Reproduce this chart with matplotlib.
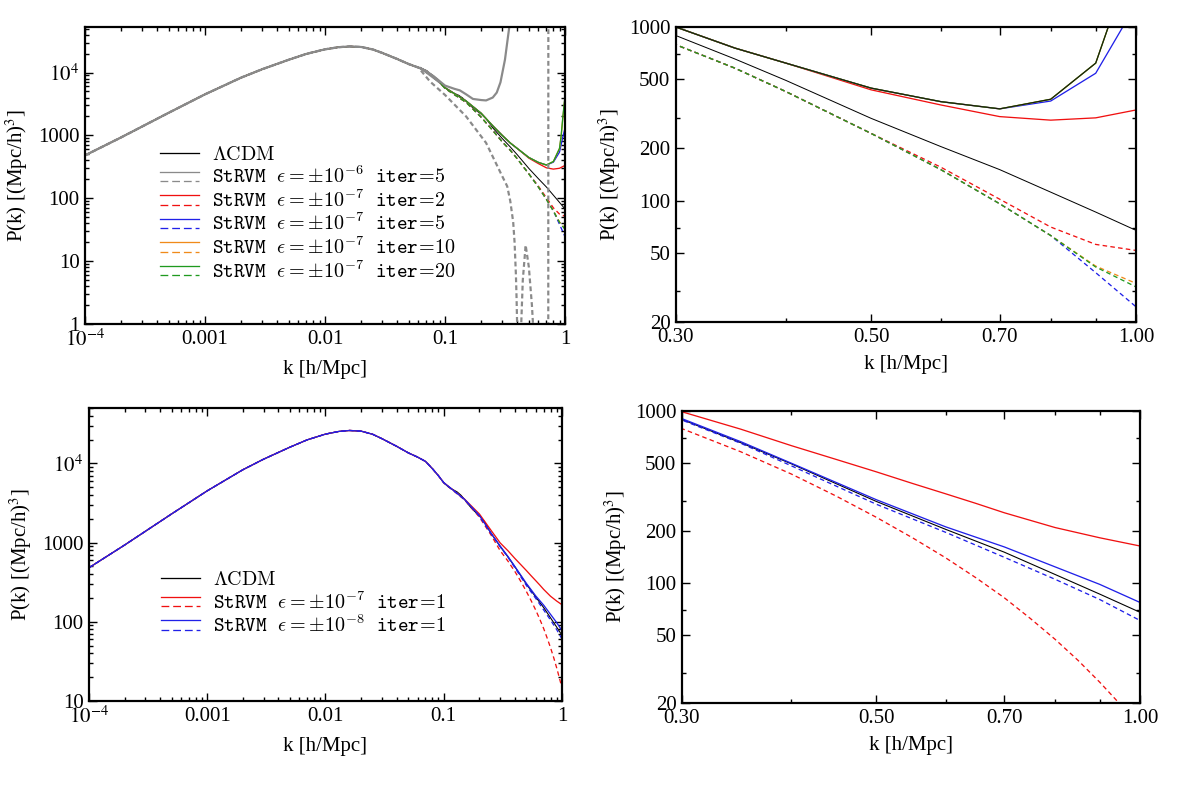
import matplotlib
matplotlib.use("Agg")
import matplotlib.pyplot as plt
import numpy as np
from matplotlib.legend_handler import HandlerBase
from matplotlib.lines import Line2D
from matplotlib.ticker import FixedLocator, NullFormatter, LogLocator

plt.rcParams["font.family"] = ["Liberation Serif", "DejaVu Serif"]
plt.rcParams["mathtext.fontset"] = "stix"

# ---- data (k in h/Mpc, P in (Mpc/h)^3) ----
LCDM_K = [1e-4, 2e-4, 5e-4, 1e-3, 2e-3, 3e-3, 5e-3, 7e-3, 0.01, 0.013, 0.016,
          0.02, 0.025, 0.03, 0.04, 0.05, 0.06, 0.07, 0.08, 0.09, 0.1, 0.11,
          0.12, 0.13, 0.14, 0.15, 0.16, 0.17, 0.18, 0.19, 0.2, 0.22, 0.25,
          0.3, 0.35, 0.4, 0.5, 0.6, 0.7, 0.8, 0.9, 1.0]
LCDM_P = [481, 930, 2300, 4500, 8300, 11300, 16000, 19800, 23400, 25300, 26000,
          25500, 23300, 20500, 16400, 13600, 12000, 10600, 8600, 7000, 5700, 5000,
          4650, 4350, 3950, 3500, 3080, 2760, 2520, 2350, 2180, 1850, 1320,
          893, 655, 493, 298, 205, 151, 112, 86, 67.5]

# all StRVM curves follow LCDM for k < 0.1 (first N_LOW points)
N_LOW = 20

# eps = +-1e-6, iter=5
E6_SOLID_K = [0.062, 0.08, 0.1, 0.12, 0.133, 0.15, 0.171, 0.2, 0.22, 0.25, 0.27, 0.29, 0.316, 0.33, 0.35]
E6_SOLID_P = [11900, 8800, 6200, 5500, 5200, 4500, 3800, 3650, 3600, 4000, 4800, 7000, 16000, 30000, 70000]
E6_DASH_K = [0.075, 0.1, 0.15, 0.22, 0.3, 0.33, 0.35, 0.37, 0.38, 0.39, 0.395, 0.40,
             np.nan, 0.43, 0.445, 0.47, 0.50, 0.53, 0.545,
             np.nan, 0.7255, 0.7265]
E6_DASH_P = [7200, 4400, 2000, 760, 224, 155, 90, 42, 20, 6, 2.5, 0.8,
             np.nan, 0.8, 5, 18, 8, 2, 0.8,
             np.nan, 0.5, 1e5]

# eps = +-1e-7: solid branches
E7_SOLID_K = [0.1, 0.15, 0.2, 0.25, 0.3, 0.35, 0.4, 0.5, 0.6, 0.7]
E7_SOLID_P = [5750, 3520, 2250, 1420, 1000, 757, 620, 445, 372, 338]
E7I2_MID_P = [435, 356, 305]          # red at 0.5, 0.6, 0.7
E7I2_TAIL_K = [0.8, 0.9, 1.0]
E7I2_TAIL_P = [291, 300, 333]
E7I5_TAIL_K = [0.8, 0.9, 0.966, 1.0]
E7I5_TAIL_P = [375, 542, 1000, 1300]
E7I10_TAIL_K = [0.8, 0.9, 0.93, 0.96, 1.0]
E7I10_TAIL_P = [384, 620, 1000, 1900, 4000]
E7I20_TAIL_P = [384, 620, 1000, 2000, 4200]

# eps = +-1e-7: dashed branches
E7_DASH_K = [0.1, 0.15, 0.2, 0.25, 0.3, 0.35, 0.4, 0.5, 0.6, 0.7, 0.8]
E7_DASH_P = [5600, 3350, 1950, 1200, 791, 580, 425, 244, 151, 96, 63]
E7I2_DASH_TAIL_P = [156, 102, 70.5, 56, 51.7]   # red at 0.6 .. 1.0
E7I5_DASH_TAIL_P = [38.5, 24.5]                 # blue at 0.9, 1.0
E7I10_DASH_TAIL_P = [42, 33.4]                  # orange at 0.9, 1.0
E7I20_DASH_TAIL_P = [41.5, 31.9]                # green at 0.9, 1.0

# bottom panels, iter=1
R1_SOLID_K = [0.1, 0.15, 0.2, 0.25, 0.3, 0.35, 0.4, 0.45, 0.5, 0.55, 0.6, 0.65, 0.7, 0.8, 0.9, 1.0]
R1_SOLID_P = [5720, 3530, 2300, 1440, 990, 785, 629, 523, 443, 379, 330, 290, 256, 210, 183, 164]
B1_K = [0.1, 0.15, 0.2, 0.25, 0.3, 0.35, 0.4, 0.5, 0.6, 0.7, 0.8, 0.9, 1.0]
B1_SOLID_P = [5710, 3510, 2200, 1330, 903, 664, 497, 305, 212, 162, 124, 98, 77]
B1_DASH_P = [5690, 3490, 2160, 1310, 886, 650, 480, 287, 197, 141, 105, 80, 60.5]
R1_DASH_K = [0.1, 0.15, 0.2, 0.25, 0.3, 0.35, 0.4, 0.45, 0.5, 0.55, 0.6, 0.65,
             0.7, 0.75, 0.8, 0.85, 0.9, 0.95, 1.0]
R1_DASH_P = [5680, 3460, 2100, 1260, 790, 580, 430, 320, 241, 183, 140, 107,
             82, 62, 47, 35.4, 26.4, 19.6, 14.5]

GRAY = "#8a8a8a"
RED = "#f01010"
BLUE = "#2020e8"
ORANGE = "#f08a1a"
GREEN = "#1f9a1f"

PX = 0.72  # one pixel in points at dpi=100


def low(kk, pp):
    return LCDM_K[:N_LOW] + list(kk), LCDM_P[:N_LOW] + list(pp)


def series():
    s = {}
    s["lcdm"] = (LCDM_K, LCDM_P)
    s["e6_solid"] = low(E6_SOLID_K, E6_SOLID_P)
    s["e6_dash"] = (LCDM_K[:17] + E6_DASH_K, LCDM_P[:17] + E6_DASH_P)
    base_k, base_p = low(E7_SOLID_K, E7_SOLID_P)
    s["i2_solid"] = (base_k[:-3] + [0.5, 0.6, 0.7] + E7I2_TAIL_K,
                     base_p[:-3] + E7I2_MID_P + E7I2_TAIL_P)
    s["i5_solid"] = (base_k + E7I5_TAIL_K, base_p + E7I5_TAIL_P)
    s["i10_solid"] = (base_k + E7I10_TAIL_K, base_p + E7I10_TAIL_P)
    s["i20_solid"] = (base_k + E7I10_TAIL_K, base_p + E7I20_TAIL_P)
    dk, dp = low(E7_DASH_K, E7_DASH_P)
    s["i2_dash"] = (dk[:-3] + [0.6, 0.7, 0.8, 0.9, 1.0], dp[:-3] + E7I2_DASH_TAIL_P)
    s["i5_dash"] = (dk + [0.9, 1.0], dp + E7I5_DASH_TAIL_P)
    s["i10_dash"] = (dk + [0.9, 1.0], dp + E7I10_DASH_TAIL_P)
    s["i20_dash"] = (dk + [0.9, 1.0], dp + E7I20_DASH_TAIL_P)
    s["r1_solid"] = low(R1_SOLID_K, R1_SOLID_P)
    s["r1_dash"] = low(R1_DASH_K, R1_DASH_P)
    s["b1_solid"] = low(B1_K, B1_SOLID_P)
    s["b1_dash"] = low(B1_K, B1_DASH_P)
    return s


S = series()
DASH = (0, (3.5, 2.5))


class PairHandler(HandlerBase):
    """Legend key drawn as a solid line above a dashed one."""

    def create_artists(self, legend, orig_handle, xdescent, ydescent, width,
                       height, fontsize, trans):
        color = orig_handle[0].get_color()
        ymid = height / 2 - ydescent
        gap = 0.24 * fontsize
        a = Line2D([-xdescent, width - xdescent], [ymid + gap] * 2, color=color, lw=1.3 * PX)
        b = Line2D([-xdescent, width - xdescent], [ymid - gap] * 2, color=color, lw=1.3 * PX,
                   linestyle=(0, (6, 3)))
        for ln in (a, b):
            ln.set_transform(trans)
        return [a, b]


def style_axes(ax):
    ax.set_xscale("log")
    ax.set_yscale("log")
    for sp in ax.spines.values():
        sp.set_linewidth(2.2 * PX)
    ax.tick_params(which="both", direction="in", top=True, right=True, labelsize=15, pad=4,
                   width=1.4 * PX)
    ax.tick_params(which="major", length=6)
    ax.tick_params(which="minor", length=3)


def left_ticks(ax, ymin):
    ax.set_xlim(1e-4, 1)
    ax.set_xticks([1e-4, 1e-3, 1e-2, 0.1, 1], [r"$10^{-4}$", "0.001", "0.01", "0.1", "1"])
    ax.xaxis.set_minor_locator(LogLocator(base=10, subs=np.arange(2, 10)))
    ax.xaxis.set_minor_formatter(NullFormatter())
    yt = [1, 10, 100, 1000, 1e4]
    yl = ["1", "10", "100", "1000", r"$10^4$"]
    keep = [i for i, v in enumerate(yt) if v >= ymin]
    ax.set_yticks([yt[i] for i in keep], [yl[i] for i in keep])
    ax.yaxis.set_minor_locator(LogLocator(base=10, subs=np.arange(2, 10)))
    ax.yaxis.set_minor_formatter(NullFormatter())


def right_ticks(ax):
    ax.set_xlim(0.3, 1.0)
    ax.set_ylim(20, 1000)
    ax.set_xticks([0.3, 0.5, 0.7, 1.0], ["0.30", "0.50", "0.70", "1.00"])
    ax.xaxis.set_minor_locator(FixedLocator([0.4, 0.6, 0.8, 0.9]))
    ax.xaxis.set_minor_formatter(NullFormatter())
    ax.set_yticks([20, 50, 100, 200, 500, 1000], ["20", "50", "100", "200", "500", "1000"])
    ax.yaxis.set_minor_locator(FixedLocator([30, 70, 300, 700]))
    ax.yaxis.set_minor_formatter(NullFormatter())


def labels(ax, ylab_pad):
    ax.set_xlabel("k [h/Mpc]", fontsize=15, labelpad=6)
    ax.set_ylabel(r"P(k) [(Mpc/h)$^3$]", fontsize=15, labelpad=ylab_pad)


def draw_top(ax, with_gray=True):
    ax.plot(*S["lcdm"], color="black", lw=1.0 * PX)
    for key, col in [("i2", RED), ("i5", BLUE), ("i10", ORANGE), ("i20", GREEN)]:
        ax.plot(*S[key + "_solid"], color=col, lw=1.3 * PX)
    for key, col in [("i2", RED), ("i5", BLUE), ("i10", ORANGE), ("i20", GREEN)]:
        ax.plot(*S[key + "_dash"], color=col, lw=1.3 * PX, linestyle=DASH)
    if with_gray:
        ax.plot(*S["e6_solid"], color=GRAY, lw=2.2 * PX)
        ax.plot(*S["e6_dash"], color=GRAY, lw=2.2 * PX, linestyle=(0, (2.2, 1.4)))


def draw_bottom(ax):
    ax.plot(*S["lcdm"], color="black", lw=1.1 * PX)
    ax.plot(*S["r1_solid"], color=RED, lw=1.3 * PX)
    ax.plot(*S["r1_dash"], color=RED, lw=1.3 * PX, linestyle=DASH)
    ax.plot(*S["b1_solid"], color=BLUE, lw=1.3 * PX)
    ax.plot(*S["b1_dash"], color=BLUE, lw=1.3 * PX, linestyle=DASH)


fig = plt.figure(figsize=(11.96, 7.87), dpi=100)
ax_tl = fig.add_axes([0.0711, 0.5883, 0.4013, 0.3774])
ax_tr = fig.add_axes([0.5652, 0.5908, 0.3846, 0.3748])
ax_bl = fig.add_axes([0.0744, 0.1093, 0.3955, 0.3723])
ax_br = fig.add_axes([0.5702, 0.1067, 0.3829, 0.3710])

for ax in (ax_tl, ax_tr, ax_bl, ax_br):
    style_axes(ax)

leg_font = {"family": "DejaVu Serif", "size": 14.5, "math_fontfamily": "cm"}
eps_lbl = r"$\mathtt{StRVM}\ \ \epsilon = \pm 10^{%s}\ \ \mathtt{iter}\!=\!\mathtt{%s}$"
leg_kw = dict(loc="upper left", frameon=False, prop=leg_font,
              handler_map={tuple: PairHandler()}, handlelength=1.95,
              handletextpad=0.65, labelspacing=0.1, borderpad=0, borderaxespad=0)


def pair(c):
    return (Line2D([], [], color=c), Line2D([], [], color=c, linestyle="--"))


# top left
draw_top(ax_tl)
ax_tl.set_ylim(1, 5.3e4)
left_ticks(ax_tl, 1)
labels(ax_tl, 6)
handles = [Line2D([], [], color="black", lw=1.3 * PX)] + [pair(c) for c in (GRAY, RED, BLUE, ORANGE, GREEN)]
texts = [r"$\Lambda\mathrm{CDM}$",
         eps_lbl % ("-6", "5"), eps_lbl % ("-7", "2"), eps_lbl % ("-7", "5"),
         eps_lbl % ("-7", "10"), eps_lbl % ("-7", "20")]
ax_tl.legend(handles, texts, bbox_to_anchor=(0.156, 0.603), **leg_kw)

# top right
draw_top(ax_tr, with_gray=False)
ax_tr.plot(*S["i20_solid"], color="#201010", lw=1.0 * PX)
right_ticks(ax_tr)
labels(ax_tr, 4)

# bottom left
draw_bottom(ax_bl)
ax_bl.set_ylim(10, 5e4)
left_ticks(ax_bl, 10)
labels(ax_bl, 6)
handles_b = [Line2D([], [], color="black", lw=1.3 * PX), pair(RED), pair(BLUE)]
texts_b = [r"$\Lambda\mathrm{CDM}$", eps_lbl % ("-7", "1"), eps_lbl % ("-8", "1")]
ax_bl.legend(handles_b, texts_b, bbox_to_anchor=(0.152, 0.447), **leg_kw)

# bottom right
draw_bottom(ax_br)
right_ticks(ax_br)
labels(ax_br, 4)

fig.savefig("out.png", dpi=100)
